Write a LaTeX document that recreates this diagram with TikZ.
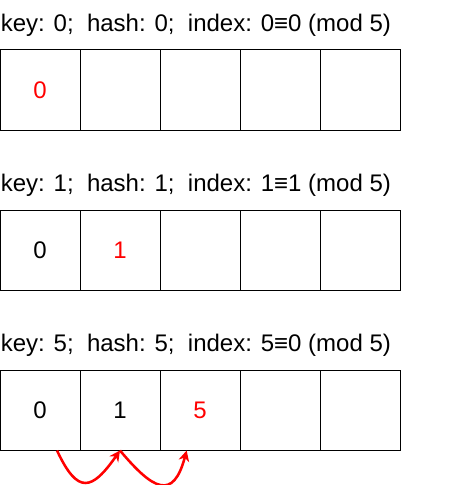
\documentclass[tikz,border=0pt]{standalone}
\usepackage{fontspec}
\setmainfont{Liberation Sans}
\usetikzlibrary{positioning,arrows.meta}

\begin{document}
\begin{tikzpicture}[x=1pt,y=1pt,node distance=60pt,on grid,
    cell/.style={draw,line width=0.75pt,minimum size=60pt,inner sep=0pt,
      font=\fontsize{18pt}{21pt}\selectfont},
    new/.style={text=red},
    caption/.style={anchor=base west,inner sep=0pt,
      font=\fontsize{18pt}{21pt}\selectfont},
    probe/.style={->,red,line width=1.9pt,looseness=2,
      >={Stealth[length=8pt,width=8pt,inset=2.5pt]}}]
    \useasboundingbox (0,0) rectangle (338.25,-363.75);

    % key 0
    \node[cell,new]  (a0) at (30,-67.5) {0};
    \node[cell]      (a1) [right=of a0] {};
    \node[cell]      (a2) [right=of a1] {};
    \node[cell]      (a3) [right=of a2] {};
    \node[cell]      (a4) [right=of a3] {};
    \node[caption]   (ta) at ([shift={(0.75,13.7)}]a0.north west)
      {key: 0;\ \ hash: 0;\ \ index: 0≡0 (mod 5)};

    % key 1
    \node[cell]      (b0) [below=120pt of a0] {0};
    \node[cell,new]  (b1) [right=of b0] {1};
    \node[cell]      (b2) [right=of b1] {};
    \node[cell]      (b3) [right=of b2] {};
    \node[cell]      (b4) [right=of b3] {};
    \node[caption]   (tb) at ([shift={(0.75,13.7)}]b0.north west)
      {key: 1;\ \ hash: 1;\ \ index: 1≡1 (mod 5)};

    % key 5, collides and moves on
    \node[cell]      (c0) [below=120pt of b0] {0};
    \node[cell]      (c1) [right=of c0] {1};
    \node[cell,new]  (c2) [right=of c1] {5};
    \node[cell]      (c3) [right=of c2] {};
    \node[cell]      (c4) [right=of c3] {};
    \node[caption]   (tc) at ([shift={(0.75,13.7)}]c0.north west)
      {key: 5;\ \ hash: 5;\ \ index: 5≡0 (mod 5)};

    \coordinate (s1) at ([xshift=12.75pt]c0.south);
    \coordinate (e2) at ([xshift=-10pt]c2.south);
    \draw[probe] (s1) to[out=-65,in=-125] (c1.south);
    \draw[probe] (c1.south) to[out=-50,in=-105] (e2);
\end{tikzpicture}
\end{document}
